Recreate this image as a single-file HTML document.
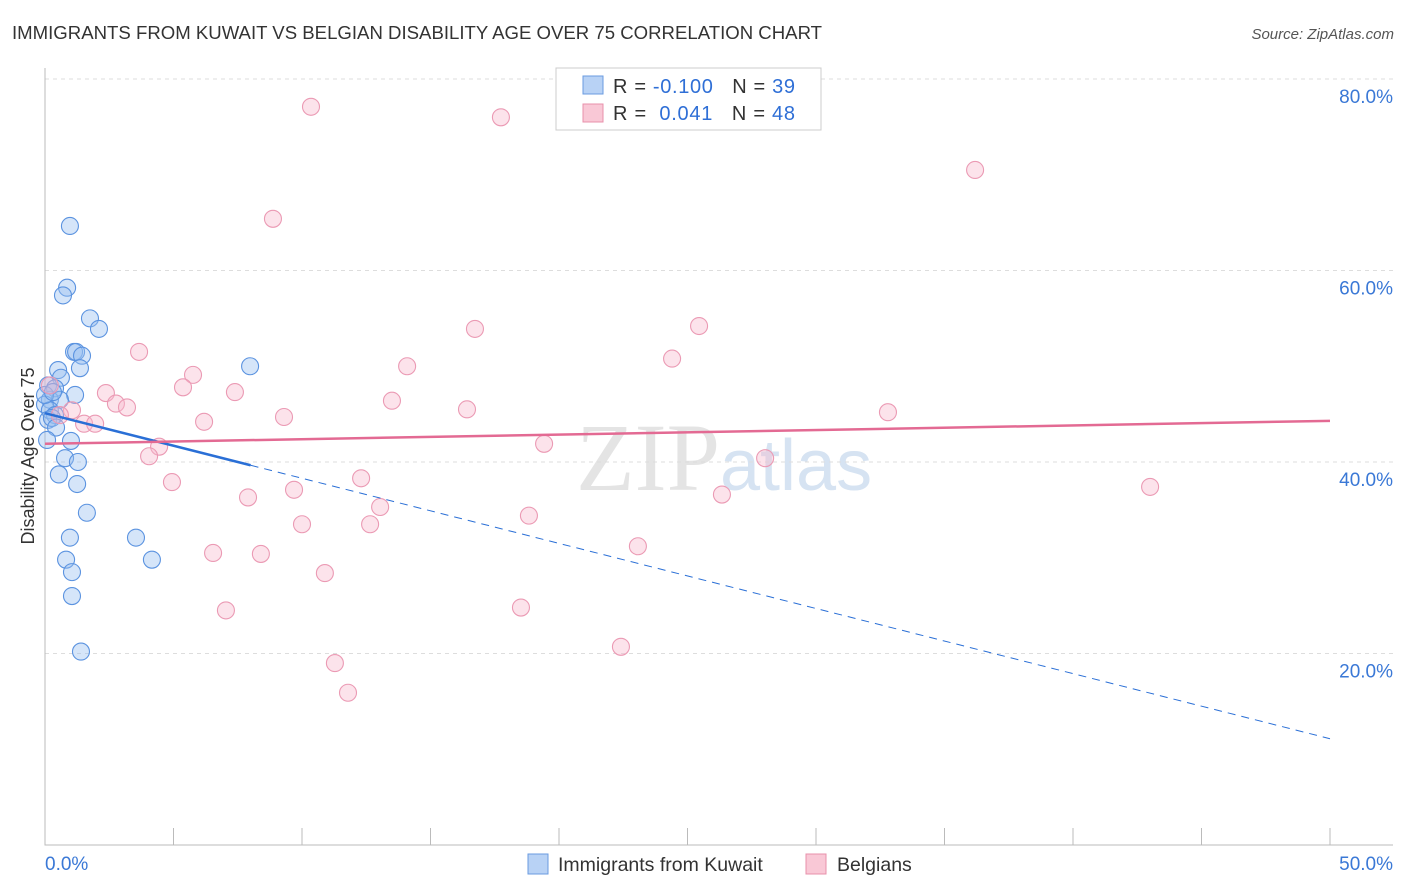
<!DOCTYPE html>
<html><head><meta charset="utf-8"><style>
body{margin:0;background:#fff;font-family:"Liberation Sans",sans-serif}
svg{display:block}
</style></head><body>
<svg id="c" width="1406" height="892">
<text x="12" y="39" font-size="18.6" fill="#333">IMMIGRANTS FROM KUWAIT VS BELGIAN DISABILITY AGE OVER 75 CORRELATION CHART</text>
<text x="1394" y="39" font-size="15" fill="#555" font-style="italic" text-anchor="end">Source: ZipAtlas.com</text>
<text x="34" y="456" font-size="18" fill="#333" text-anchor="middle" transform="rotate(-90 34 456)">Disability Age Over 75</text>
<text x="720" y="490" font-size="96" fill="#e4e4e4" text-anchor="end" font-family="Liberation Serif">ZIP</text>
<text x="720" y="490" font-size="72" fill="#d6e3f2">atlas</text>
<g id="grid"></g><g id="pts"></g><g id="lines"></g>
<g>
<rect x="556" y="68" width="265" height="62" fill="#fff" stroke="#ccc"/>
<rect x="583" y="76" width="20" height="18" fill="#b8d2f5" stroke="#6a9be0"/>
<rect x="583" y="104" width="20" height="18" fill="#f9c8d6" stroke="#e890ab"/>
<text x="613" y="93" font-size="20" fill="#333" textLength="182" lengthAdjust="spacing">R = <tspan fill="#2f6fd6">-0.100</tspan>&#160;&#160;&#160;N = <tspan fill="#2f6fd6">39</tspan></text>
<text x="613" y="120" font-size="20" fill="#333" textLength="182" lengthAdjust="spacing">R = &#160;<tspan fill="#2f6fd6">0.041</tspan>&#160;&#160;&#160;N = <tspan fill="#2f6fd6">48</tspan></text>
</g>
<g>
<rect x="528" y="854" width="20" height="20" fill="#b8d2f5" stroke="#6a9be0"/>
<text x="558" y="871" font-size="19.5" fill="#333">Immigrants from Kuwait</text>
<rect x="806" y="854" width="20" height="20" fill="#f9c8d6" stroke="#e890ab"/>
<text x="837" y="871" font-size="19.5" fill="#333">Belgians</text>
</g>
<text x="45" y="870" font-size="19" fill="#3a78d6">0.0%</text>
<text x="1393" y="870" font-size="19" fill="#3a78d6" text-anchor="end">50.0%</text>
</svg>
<script>
const yTicks=[80,60,40,20];
const xTicks=[0,5,10,15,20,25,30,35,40,45,50];
const blueX=[0.97,0.86,0.70,1.75,2.10,1.13,1.21,1.44,1.36,0.51,0.62,0.12,0.39,1.17,0.19,0.58,0,0.19,0.39,0.12,0.27,0.43,1.01,0.78,1.28,0.54,1.25,1.63,0.97,3.54,0.82,4.16,1.05,1.05,1.40,7.98,0,0.08,0.31];
const blueY=[64.65,58.2,57.4,55.0,53.9,51.5,51.5,51.1,49.8,49.6,48.8,48.0,47.7,47.0,46.5,46.5,46.0,45.4,44.9,44.4,44.6,43.6,42.2,40.4,40.0,38.7,37.7,34.7,32.1,32.1,29.8,29.8,28.5,26.0,20.2,50.0,47.0,42.3,47.3];
const pinkX=[10.35,17.74,36.19,8.87,16.73,25.45,3.66,24.40,14.09,5.76,5.37,7.39,2.37,13.50,2.76,3.19,16.42,32.80,9.30,6.19,1.05,0.58,1.52,1.95,19.42,4.44,4.05,28.02,12.30,4.94,43.0,7.90,9.69,26.34,13.04,18.83,10.0,12.65,23.07,6.54,8.40,10.89,7.04,18.52,22.41,11.28,11.79,0.19];
const pinkY=[77.1,76.0,70.5,65.4,53.9,54.2,51.5,50.8,50.0,49.1,47.8,47.3,47.2,46.4,46.1,45.7,45.5,45.2,44.7,44.2,45.4,44.9,44.0,44.0,41.9,41.6,40.6,40.4,38.3,37.9,37.4,36.3,37.1,36.6,35.3,34.4,33.5,33.5,31.2,30.5,30.4,28.4,24.5,24.8,20.7,19.0,15.9,48.0];
const blueTrend=[45.1,11.1]; const blueSolidEnd=8;
const pinkTrend=[41.9,44.3];
const X=v=>45+v*25.7, Y=v=>845-v*9.575;
const NS='http://www.w3.org/2000/svg';
function mk(t,a,p){const e=document.createElementNS(NS,t);for(const k in a)e.setAttribute(k,a[k]);p.appendChild(e);return e;}
const grid=document.getElementById('grid');
yTicks.forEach(t=>{
 const l=mk('line',{x1:45,x2:1393,y1:Y(t),y2:Y(t),stroke:'#ddd','stroke-dasharray':'4,4'},grid);
 
 
 const tx=mk('text',{x:1393,y:Y(t)+24,'font-size':19,fill:'#3a78d6','text-anchor':'end'},grid);
 tx.textContent=t.toFixed(1)+'%';
 
 
});
const ax=mk('path',{d:'M45 68V845H1393',stroke:'#bbb',fill:'none'},grid);


xTicks.forEach(t=>{
 const l=mk('line',{x1:X(t),x2:X(t),y1:828,y2:845,stroke:'#bbb'},grid);
 
 
});
const pts=document.getElementById('pts');
blueX.forEach((v,i)=>{
 const c=mk('circle',{cx:X(v),cy:Y(blueY[i]),r:8.5,fill:'rgba(150,190,240,0.4)',stroke:'#5b93e0','stroke-width':1.1},pts);
 
 
});
pinkX.forEach((v,i)=>{
 const c=mk('circle',{cx:X(v),cy:Y(pinkY[i]),r:8.5,fill:'rgba(248,185,205,0.4)',stroke:'#eb9ab4','stroke-width':1.1},pts);
 
 
});
const ln=document.getElementById('lines');
const by=x=>blueTrend[0]+(blueTrend[1]-blueTrend[0])*x/50;
const b1=mk('line',{x1:X(0),y1:Y(by(0)),x2:X(blueSolidEnd),y2:Y(by(blueSolidEnd)),stroke:'#2a6fd6','stroke-width':2.5},ln);


const b2=mk('line',{x1:X(blueSolidEnd),y1:Y(by(blueSolidEnd)),x2:X(50),y2:Y(by(50)),stroke:'#2a6fd6','stroke-width':1,'stroke-dasharray':'8,6'},ln);


const p1=mk('line',{x1:X(0),y1:Y(pinkTrend[0]),x2:X(50),y2:Y(pinkTrend[1]),stroke:'#e36a93','stroke-width':2.5},ln);


</script>
</body></html>
